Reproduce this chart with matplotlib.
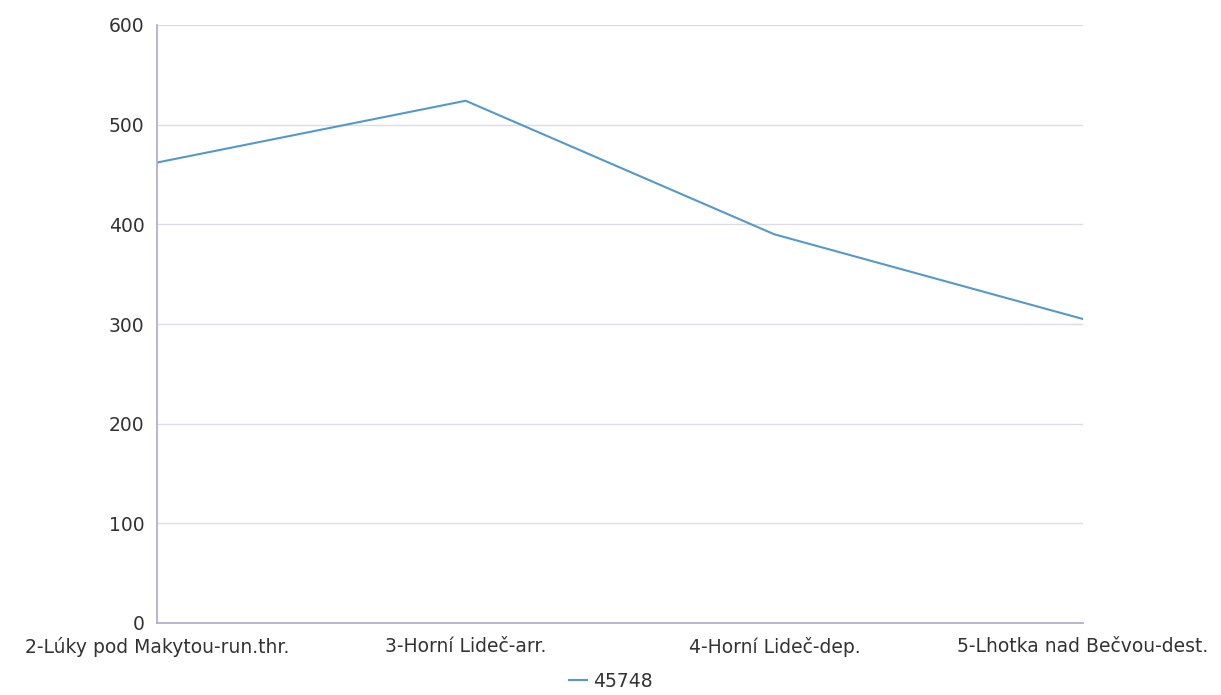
import matplotlib
matplotlib.use('Agg')
import matplotlib.pyplot as plt

stations = ['2-Lúky pod Makytou-run.thr.', '3-Horní Lideč-arr.',
            '4-Horní Lideč-dep.', '5-Lhotka nad Bečvou-dest.']
values = [462, 524, 390, 305]
series_name = '45748'
yticks = [0, 100, 200, 300, 400, 500, 600]

plt.rcParams['font.family'] = ['DejaVu Sans']

fig = plt.figure(figsize=(12.21, 6.95), dpi=100)
ax = fig.add_axes([157/1221, 1 - 623/695, (1083-157)/1221, (623-25)/695])

x = list(range(len(stations)))
ax.plot(x, values, color='#5599cc', linewidth=1.5, label=series_name)

ax.set_xlim(0, len(stations) - 1)
ax.set_ylim(0, 600)
ax.set_yticks(yticks)
ax.set_xticks(x)
ax.set_xticklabels(stations)
ax.grid(axis='y', color='#dcdce8', linewidth=1)
ax.set_axisbelow(True)

for s in ['top', 'right']:
    ax.spines[s].set_visible(False)
for s in ['left', 'bottom']:
    ax.spines[s].set_color('#aaaacc')
    ax.spines[s].set_linewidth(1.2)

ax.tick_params(axis='both', length=0, labelsize=13.5, colors='#333333')
ax.tick_params(axis='y', pad=9)
ax.tick_params(axis='x', pad=10)

fig.legend(loc='lower center', bbox_to_anchor=(0.5, -0.018), frameon=False,
           fontsize=13.5, handlelength=1.0, handletextpad=0.3, labelcolor='#333333')

fig.savefig('out.png', dpi=100)
